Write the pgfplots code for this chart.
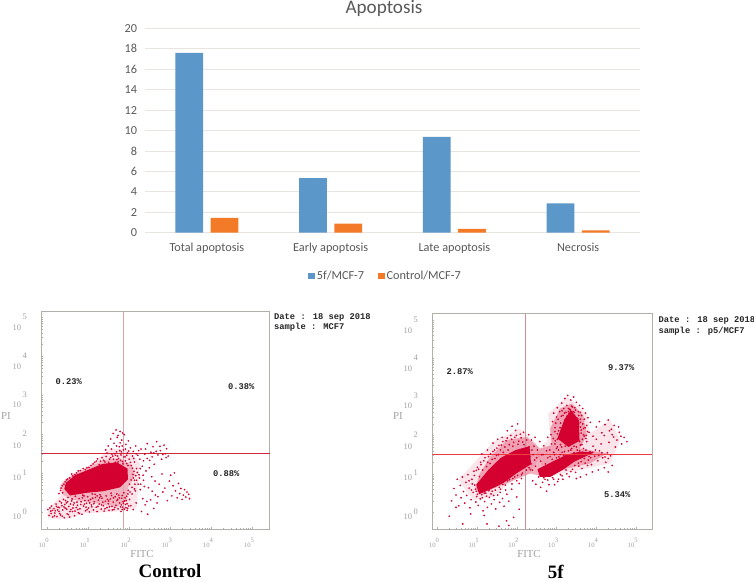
\documentclass[border=0pt]{standalone}
\usepackage{fontspec}
\usepackage{pgfplots}
\pgfplotsset{compat=1.18}
\setmainfont{Carlito}
\newfontfamily\monof{Liberation Mono}
\newfontfamily\timesf{Liberation Serif}

\definecolor{barblue}{HTML}{5B97C9}
\definecolor{barorange}{HTML}{F37B28}
\definecolor{txtgray}{HTML}{595959}
\definecolor{gridgray}{HTML}{E8E4E0}
\definecolor{ptred}{HTML}{D4002F}
\definecolor{framegray}{HTML}{B0B0AA}
\definecolor{labgray}{HTML}{A0A0A0}
\definecolor{vlineA}{HTML}{D9A6AC}
\definecolor{vlineB}{HTML}{CF8C98}
\definecolor{hlineA}{HTML}{D0283C}
\definecolor{hlineB}{HTML}{EE3A46}

% tick labels of the flow plots: base and exponent sit apart
\newcommand\xl[1]{\makebox[0pt][r]{10}\raisebox{5bp}{#1}}
\newcommand\yl[2]{\makebox[0pt][r]{\raisebox{-#2bp}{10\,}}#1}
\def\mt{.3,.48,.6,.7,.78,.85,.9,.95,1.3,1.48,1.6,1.7,1.78,1.85,1.9,1.95,2.3,2.48,2.6,2.7,2.78,2.85,2.9,2.95,3.3,3.48,3.6,3.7,3.78,3.85,3.9,3.95,4.3,4.48,4.6,4.7,4.78,4.85,4.9,4.95}

\pgfplotsset{
  flow/.style={
    scale only axis,
    axis line style={framegray,line width=1bp},
    tick align=inside,
    tick pos=left,
    tick style={framegray,line width=.4pt},
    major tick length=2bp,
    minor tick length=1.2bp,
    xtick={0,1,2,3,4,5},
    ytick={0,1,2,3,4,5},
    minor xtick=\mt,
    minor ytick=\mt,
    xticklabels={\xl{0},\xl{1},\xl{2},\xl{3},\xl{4},\xl{5}},
    yticklabels={\yl{0}{5},\yl{1}{5},\yl{2}{12},\yl{3}{10},\yl{4}{11},\yl{5}{11}},
    xticklabel style={font=\timesf\fontsize{6.7}{7}\selectfont,text=labgray,anchor=base,yshift=-18bp},
    yticklabel style={font=\timesf\fontsize{8.5}{9}\selectfont,text=labgray,anchor=base east,xshift=-11bp,yshift=-2bp},
  },
  pts/.style={only marks,color=ptred,mark=*,mark size=.65bp,mark options={draw=none,fill=ptred,fill opacity=.75}},
  halo/.style={draw=none,fill=ptred,fill opacity=#1},
  halo/.default=.1,
  core/.style={draw=none,fill=ptred},
}

\begin{document}
\begin{tikzpicture}
\path[use as bounding box] (0,0) rectangle (754bp,-582bp);

% bar chart
\begin{axis}[
  at={(145bp,-232.7bp)},
  scale only axis,
  width=495bp,
  height=204.4bp,
  ybar,
  bar width=27.6bp,
  xmin=-0.5, xmax=3.5,
  ymin=0, ymax=20,
  ytick distance=2,
  xtick=data,
  xticklabels={Total apoptosis,Early apoptosis,Late apoptosis,Necrosis},
  ymajorgrids,
  grid style={gridgray,line width=.8pt},
  axis line style={draw=none},
  tick style={draw=none},
  /pgf/number format/assume math mode=true,
  ticklabel style={text=txtgray,font=\fontsize{12.3}{14}\selectfont},
  xticklabel style={yshift=-3bp},
  yticklabel style={xshift=-4.5bp},
  legend style={at={(0.486,-0.212)},anchor=center,draw=none,legend columns=2,
    font=\fontsize{12.3}{14}\selectfont,text=txtgray,
    /tikz/every even column/.append style={column sep=12bp},
    inner sep=0pt},
  legend image code/.code={\fill[#1] (0bp,-3bp) rectangle (6.5bp,3.5bp);},
]
\addplot[fill=barblue,draw=none,bar shift=-17.6bp] coordinates {(0,17.6) (1,5.34) (2,9.37) (3,2.87)};
\addplot[fill=barorange,draw=none,bar shift=17.6bp] coordinates {(0,1.46) (1,0.88) (2,0.38) (3,0.23)};
\legend{5f/MCF-7,Control/MCF-7}
\end{axis}
\node[text=txtgray,font=\fontsize{19.2}{21}\selectfont] at (384bp,-8bp) {Apoptosis};

% control panel
\begin{axis}[flow,at={(41.3bp,-529.3bp)},width=228.7bp,height=217.6bp,
  xmin=-0.14,xmax=5.43,ymin=-0.436,ymax=5.14]
\addplot[halo] coordinates {(0,-.03)(.07,.15)(.32,.40)(.36,.79)(.80,1.04)(1.21,1.34)(1.53,1.64)(1.98,1.60)(2.26,1.26)(2.22,.65)(2.18,.10)(1.69,.02)(.88,-.03)(.48,-.18)(.03,-.15)} --cycle;
\addplot[halo=.22] coordinates {(.32,.70)(.64,1.0)(1.05,1.17)(1.37,1.34)(1.78,1.38)(2.06,1.21)(2.14,.96)(1.98,.66)(1.94,.32)(1.70,.13)(1.21,.23)(.64,.32)(.40,.44)} --cycle;
\addplot[line width=1.6bp,draw=vlineA] coordinates {(1.866,-0.436)(1.866,5.14)};
\addplot[core] coordinates {(.46,.76)(.70,.96)(1.03,1.1)(1.35,1.24)(1.70,1.28)(1.96,1.12)(1.97,.84)(1.78,.64)(1.37,.54)(.97,.5)(.56,.43)(.42,.6)} --cycle;
\addplot[pts] coordinates {
(.02,.07)(.05,-.08)(.09,.03)(.11,.16)(.14,-.12)(.17,.09)(.19,-.02)(.22,.21)(.24,-.11)(.27,.13)
(.29,.02)(.31,.28)(.33,-.07)(.36,.17)(.38,.06)(.4,.33)(.42,-.14)(.44,.11)(.47,.24)(.49,-.04)
(.51,.38)(.53,.15)(.55,-.12)(.58,.07)(.6,.29)(.62,.02)(.64,.19)(.67,-.09)(.69,.41)(.71,.12)
(.73,.26)(.76,-.01)(.78,.35)(.8,.09)(.82,.2)(.85,-.05)(.87,.44)(.89,.16)(.92,.3)(.94,.04)
(.96,.23)(.99,.4)(1.01,.11)(1.03,.01)(1.06,.33)(1.08,.19)(1.1,.47)(1.13,.06)(1.15,.27)(1.18,.38)
(1.2,.13)(1.22,.02)(1.25,.31)(1.27,.21)(1.29,.45)(1.32,.08)(1.34,.36)(1.37,.17)(1.39,.03)(1.42,.28)
(1.44,.42)(1.46,.12)(1.49,.22)(1.51,.05)(1.54,.34)(1.56,.49)(1.58,.15)(1.61,.26)(1.63,.07)(1.66,.4)
(1.68,.18)(1.7,.3)(1.73,.09)(1.75,.44)(1.77,.24)(1.8,.02)(1.82,.36)(1.84,.13)(1.87,.5)(1.89,.29)
(1.91,.2)(1.94,.41)(1.96,.1)(1.98,.56)(2.01,.33)(2.04,.17)(2.07,.47)(2.1,.07)(2.13,.6)(2.17,.24)
(.38,.5)(.34,.62)(.41,.72)(.47,.83)(.55,.88)(.63,.93)(.72,1.01)(.81,1.07)(.93,1.09)(1.02,1.15)
(1.12,1.24)(1.2,1.31)(1.27,1.22)(1.34,1.4)(1.41,1.29)(1.46,1.52)(1.52,1.36)(1.57,1.62)(1.6,1.44)(1.63,1.77)
(1.66,1.28)(1.69,1.55)(1.71,1.92)(1.74,1.38)(1.76,1.68)(1.78,2.07)(1.8,1.47)(1.82,1.85)(1.84,1.3)(1.86,1.6)
(1.88,1.99)(1.9,1.42)(1.92,1.74)(1.94,1.25)(1.96,1.52)(1.98,1.83)(2,1.36)(2.03,1.65)(2.05,1.2)(2.08,1.44)
(1.61,2.02)(1.68,2.11)(1.73,1.97)(1.55,1.88)(1.49,1.7)(1.43,1.6)(1.84,2.03)(1.58,1.49)(1.77,1.58)(1.7,1.35)
(2.1,1.56)(2.13,1.29)(2.16,1.7)(2.18,1.12)(2.21,1.46)(2.24,.96)(2.26,1.36)(2.29,1.62)(2.32,1.18)(2.35,.82)
(2.38,1.49)(2.41,1.06)(2.44,1.76)(2.47,.63)(2.5,1.33)(2.53,1.54)(2.55,.91)(2.58,1.68)(2.61,1.23)(2.64,.44)
(2.67,1.81)(2.7,1.47)(2.73,.72)(2.76,1.58)(2.79,1.36)(2.82,.52)(2.85,1.72)(2.88,1.5)(2.91,1.63)(2.95,1.44)
(2.98,.8)(3.01,.95)(3.04,.42)(3.07,.68)(3.1,1.01)(3.13,.55)(3.17,.37)(3.2,.74)(3.23,.48)(3.26,.61)
(3.29,.33)(3.32,.44)(3.35,.58)(3.38,.39)(3.41,.52)(3.45,.46)(3.47,.35)(2.3,.02)(2.39,.19)(2.45,-.05)
(2.52,.32)(2.6,.1)(2.68,.24)(2.1,.88)(2.14,.72)(2.2,1.02)(2.27,.58)(2.33,.35)(2.37,.66)(2.43,.28)
(2.56,.54)(2.63,.8)(2.7,.4)(2.8,.98)(2.87,.62)(2.93,.3)(2.4,1.62)(2.6,1.52)(2.75,1.69)(2.9,1.4)
};
\addplot[pts] coordinates {
(.13,.05)(.31,-.03)(.07,.11)(.45,.3)(.26,.06)(.57,.21)(.18,-.09)(.68,.03)(.35,.24)(.52,-.06)
(.41,.14)(.74,.18)(.23,.15)(.61,.34)(.83,.27)(.1,-.03)(.48,.08)(.66,.24)(.3,.12)(.79,-.03)
(.95,.13)(.56,.02)(.2,.04)(.86,.37)(.43,.2)(.75,.07)(.37,-.1)(.91,.21)(.63,.11)(.5,.27)
(1.04,.24)(1.31,.41)(.98,.07)(1.52,.14)(1.11,.36)(1.72,.33)(1.24,.15)(1.47,.33)(.9,.42)(1.65,.12)
(1.17,.46)(1.36,.26)(1.93,.3)(1.57,.43)(1.09,.14)(1.79,.14)(1.41,.09)(1.28,.37)(1.86,.23)(1.62,.37)
(1.01,.3)(1.7,.47)(1.33,.19)(1.95,.22)(1.5,.29)(1.22,.42)(1.83,.43)(1.59,.06)(1.14,.22)(1.76,.37)
(1.9,.37)(1.97,.47)(1.85,.27)(1.92,.12)(1.81,.19)(1.99,.16)(1.88,.08)(2.02,.52)(1.95,.05)(1.83,.07)
(.33,.56)(.29,.48)(.37,.68)(.44,.78)(.5,.85)(.6,.98)(.68,.96)(.76,1.06)(.88,1.12)(.97,1.14)
(1.07,1.2)(1.16,1.28)(1.23,1.37)(1.3,1.31)(1.38,1.33)(1.44,1.43)(1.5,1.28)(1.55,1.4)(1.62,1.36)(1.67,1.46)
(1.73,1.29)(1.79,1.33)(1.85,1.24)(1.91,1.32)(1.97,1.2)(2.03,1.28)(2.08,1.13)(2.12,1.05)(2.16,.94)(2.09,.97)
(2.05,.83)(2.13,.82)(2.01,.72)(2.07,.64)(2.18,.82)(2.22,.72)(2.25,.88)(2.15,.55)(2.28,.72)(2.34,.95)
(1.65,1.5)(1.72,1.44)(1.81,1.55)(1.87,1.42)(1.94,1.46)(1.99,1.57)(1.83,1.7)(1.78,1.78)(1.91,1.62)(1.69,1.7)
(2.11,1.38)(2.17,1.5)(2.23,1.58)(2.27,1.12)(2.35,1.32)(2.44,1.38)(2.56,1.42)(2.66,1.56)(2.82,1.48)(2.49,1.14)
};
\addplot[line width=.9bp,draw=hlineA] coordinates {(-0.14,1.503)(5.43,1.503)};
\end{axis}

% 5f panel
\begin{axis}[flow,at={(432.3bp,-529bp)},width=220bp,height=215.3bp,
  xmin=-0.126,xmax=5.41,ymin=-0.433,ymax=5.165]
\addplot[halo] coordinates {(.53,.84)(.99,1.36)(1.41,1.84)(2.08,2.18)(2.50,1.79)(2.58,1.45)(2.33,1.01)(1.91,.84)(1.41,.41)(.91,.32)} --cycle;
\addplot[halo] coordinates {(2.79,2.57)(3.26,3.01)(3.76,2.57)(3.84,2.05)(4.35,2.40)(4.60,1.88)(4.35,1.27)(3.59,1.10)(2.75,.93)(2.50,1.53)(2.84,1.97)} --cycle;
\addplot[halo=.3] coordinates {(.95,.62)(1.07,1.01)(1.33,1.44)(1.75,1.88)(2.25,1.96)(2.59,1.66)(2.88,1.75)(2.84,2.18)(3.09,2.70)(3.38,2.83)(3.67,2.53)(3.76,2.01)(3.59,1.66)(4.26,1.53)(3.84,1.27)(3.26,1.14)(2.75,.92)(2.33,1.01)(1.83,.79)(1.41,.62)(1.07,.49)} --cycle;
\addplot[line width=1.4bp,draw=vlineB] coordinates {(2.223,-0.433)(2.223,5.165)};
\addplot[core] coordinates {(.98,.72)(1.28,1.1)(1.6,1.42)(1.97,1.62)(2.32,1.72)(2.36,1.25)(2.0,1.02)(1.66,.76)(1.3,.58)(1.05,.47)} --cycle;
\addplot[core] coordinates {(3.02,1.92)(3.2,2.42)(3.36,2.66)(3.56,2.4)(3.58,1.86)(3.3,1.7)} --cycle;
\addplot[core] coordinates {(2.52,1.12)(2.9,1.32)(3.25,1.5)(3.6,1.58)(3.95,1.56)(3.45,1.32)(3.18,1.12)(2.84,.92)(2.58,.92)} --cycle;
\addplot[pts] coordinates {
(.36,.3)(.42,.62)(.47,.45)(.5,.86)(.54,.17)(.58,.7)(.6,.38)(.63,.92)(.66,.54)(.69,.24)
(.72,.78)(.74,.44)(.77,.98)(.8,.63)(.82,.12)(.85,.33)(.87,.86)(.9,.52)(.92,1.07)(.94,.71)
(.97,.27)(.99,.41)(1.01,1.17)(1.03,.18)(1.06,.93)(1.08,.35)(1.1,1.24)(1.12,.46)(1.15,.04)(1.17,1.34)
(1.19,.28)(1.22,.5)(1.24,1.19)(1.26,.13)(1.29,1.45)(1.31,.39)(1.33,1.27)(1.36,.22)(1.38,.55)(1.4,1.58)
(1.43,.33)(1.45,1.4)(1.47,.09)(1.5,1.67)(1.52,.45)(1.54,1.5)(1.57,.26)(1.59,.6)(1.61,1.75)(1.64,.36)
(1.66,1.56)(1.68,.16)(1.71,.71)(1.73,1.86)(1.75,.47)(1.78,1.62)(1.8,.29)(1.82,.85)(1.85,2.0)(1.87,.6)
(1.9,1.72)(1.92,-.13)(1.95,.92)(1.97,2.13)(2,.4)(2.03,1.77)(2.06,.75)(2.09,2.03)(2.12,.98)(2.15,1.83)
(1.25,-.3)(1.55,-.36)(1.74,-.22)(2.06,.08)(.84,-.04)(.47,.13)(.3,-.1)(.64,-.3)(1.18,-.08)(1.8,-.34)
(1.12,1.52)(1.26,1.62)(1.4,1.8)(1.52,1.9)(1.63,1.95)(1.76,2.12)(1.88,2.24)(1.95,1.95)(2.02,2.3)(2.17,2.08)
(2.3,2.02)(2.34,1.11)(2.37,1.88)(2.4,.82)(2.43,1.72)(2.46,1.95)(2.48,.73)(2.52,1.62)(2.55,.92)(2.58,1.84)
(2.62,1.5)(2.65,.78)(2.68,1.73)(2.71,.86)(2.75,1.6)(2.78,1.95)(2.81,.72)(2.84,1.45)(2.87,1.78)(2.9,.9)
(2.93,1.56)(2.96,2.1)(3,1.66)(3.03,.8)(3.06,1.44)(3.1,.98)(3.13,1.7)(3.16,.86)(3.2,1.58)(3.24,1.1)
(3.28,1.76)(3.32,.93)(3.36,1.62)(3.4,1.12)(3.44,1.72)(3.48,1.04)(3.52,1.62)(3.56,1.2)(3.6,1.75)(3.64,1.14)
(3.68,1.66)(3.72,1.28)(3.76,1.84)(3.8,1.36)(3.84,1.58)(3.88,1.24)(3.92,1.72)(3.96,1.46)(4,1.9)(4.04,1.34)
(4.08,1.6)(4.12,1.78)(4.16,1.42)(4.2,2)(4.24,1.3)(4.28,1.55)(4.32,1.82)(4.36,1.47)(4.4,1.22)(4.44,1.96)
(3.78,2.1)(3.85,2.34)(3.92,1.98)(4,2.22)(4.08,2.36)(4.14,2.07)(4.22,2.28)(4.3,2.4)(4.38,2.16)(4.45,2.26)
(4.52,1.88)(4.58,2.08)(4.64,1.78)(4.7,1.95)(4.77,1.84)(4.56,2.22)(4.48,1.7)(4.62,1.98)(4.4,2.02)(4.33,2.12)
(2.86,2.02)(2.9,2.36)(2.93,2.58)(2.96,2.2)(3,2.48)(3.02,2.72)(3.05,2.12)(3.08,2.62)(3.1,2.32)(3.13,2.84)
(3.16,2.52)(3.18,2.7)(3.21,2.96)(3.24,2.6)(3.26,2.78)(3.28,3.04)(3.31,2.56)(3.33,2.68)(3.36,2.92)(3.38,2.58)
(3.4,2.74)(3.43,3.0)(3.45,2.52)(3.48,2.66)(3.5,2.86)(3.53,2.44)(3.55,2.62)(3.58,2.78)(3.6,2.34)(3.63,2.52)
(3.66,2.7)(3.68,2.18)(3.7,2.42)(3.73,2.58)(3.76,2.26)(3.79,2.46)(3.82,2.08)(3.62,2.06)(3.7,1.98)(3.6,2.22)
(3.02,1.9)(2.96,1.78)(3.08,2.02)(2.92,1.92)(3.65,1.9)(3.75,2.0)(3.3,2.62)(3.22,2.42)(3.45,2.6)(3.35,2.66)
(4.2,1.16)(4.05,1.1)(3.9,1.05)(3.75,.98)(3.6,.92)(3.5,.88)(4.3,1.05)(2.6,.65)(2.75,.55)(2.95,.72)
};
\addplot[pts] coordinates {
(.88,.74)(.93,.96)(.8,.82)(.98,1.09)(.96,.6)(.86,.58)(1.04,1.12)(1.09,1.3)(1.14,1.1)(1.2,1.42)
(1.27,1.3)(1.34,1.52)(1.38,1.38)(1.44,1.62)(1.49,1.48)(1.55,1.74)(1.59,1.62)(1.65,1.84)(1.7,1.7)(1.76,1.93)
(1.81,1.76)(1.87,1.9)(1.92,1.82)(1.99,2.0)(2.05,1.85)(2.11,1.94)(2.18,1.76)(2.25,1.88)(2.31,1.7)(2.38,1.62)
(2.33,1.46)(2.41,1.5)(2.36,1.26)(2.45,1.36)(2.39,1.1)(2.5,1.42)(2.47,1.2)(2.31,1.16)(2.24,1.1)(2.14,1.02)
(2.02,.96)(1.9,.88)(1.77,.82)(1.65,.72)(1.56,.65)(1.46,.58)(1.35,.48)(1.24,.42)(1.13,.38)(1.01,.47)
(2.12,.88)(2,.82)(1.88,.74)(1.72,.58)(1.58,.52)(1.42,.44)(1.3,.56)(1.18,.5)(1.08,.58)(.98,.55)
(2.6,1.33)(2.66,1.5)(2.72,1.26)(2.78,1.42)(2.83,1.62)(2.89,1.38)(2.95,1.5)(3,1.42)(3.05,1.62)(3.09,1.5)
(3.14,1.56)(3.18,1.48)(3.22,1.72)(3.3,1.6)(3.38,1.66)(3.44,1.55)(3.5,1.7)(3.58,1.6)(3.66,1.56)(3.74,1.62)
(3.82,1.45)(3.9,1.56)(3.98,1.62)(4.06,1.48)(4.14,1.55)(4.22,1.44)(4.3,1.4)(3.86,1.42)(3.62,1.32)(3.7,1.4)
(3.78,1.22)(3.55,1.28)(3.46,1.22)(3.36,1.06)(3.26,1.0)(3.14,.95)(3.05,.86)(2.93,.86)(2.78,.84)(2.68,.9)
(2.97,1.86)(3.02,2.04)(2.98,2.32)(3.04,2.42)(3.09,2.2)(3.12,2.5)(3.16,2.08)(3.14,2.64)(3.2,2.24)(3.2,2.58)
(3.26,2.5)(3.3,2.7)(3.34,2.48)(3.38,2.76)(3.42,2.62)(3.46,2.72)(3.5,2.46)(3.56,2.52)(3.6,2.6)(3.56,2.3)
(3.6,2.42)(3.62,2.14)(3.66,2.3)(3.68,2.02)(3.72,2.2)(3.74,1.92)(3.58,1.84)(3.64,1.76)(3.02,1.7)(3.1,1.76)
};
\addplot[line width=.9bp,draw=hlineB] coordinates {(-0.126,1.508)(5.41,1.508)};
\end{axis}

% panel annotations
\begin{scope}[every node/.style={anchor=base west,inner sep=0pt,font=\monof\bfseries\fontsize{8.8}{10}\selectfont,text=black!85}]
\node at (274bp,-319bp) {Date : 18 sep 2018};
\node at (274bp,-329.5bp) {sample : MCF7};
\node at (55.5bp,-384.5bp) {0.23\%};
\node at (228bp,-389bp) {0.38\%};
\node at (213bp,-476.5bp) {0.88\%};
\node at (658.5bp,-322.5bp) {Date : 18 sep 2018};
\node at (658.5bp,-333bp) {sample : p5/MCF7};
\node at (446.5bp,-374bp) {2.87\%};
\node at (608bp,-370bp) {9.37\%};
\node at (604bp,-497bp) {5.34\%};
\end{scope}
\begin{scope}[every node/.style={inner sep=0pt,font=\timesf\fontsize{10.8}{12}\selectfont,text=labgray}]
\node at (142bp,-554bp) {FITC};
\node at (529bp,-553.5bp) {FITC};
\node at (6bp,-415.7bp) {PI};
\node at (398bp,-416bp) {PI};
\end{scope}
\begin{scope}[every node/.style={inner sep=0pt,font=\timesf\bfseries\fontsize{19}{21}\selectfont}]
\node at (170bp,-571.5bp) {Control};
\node at (555.7bp,-572bp) {5f};
\end{scope}
\end{tikzpicture}
\end{document}
